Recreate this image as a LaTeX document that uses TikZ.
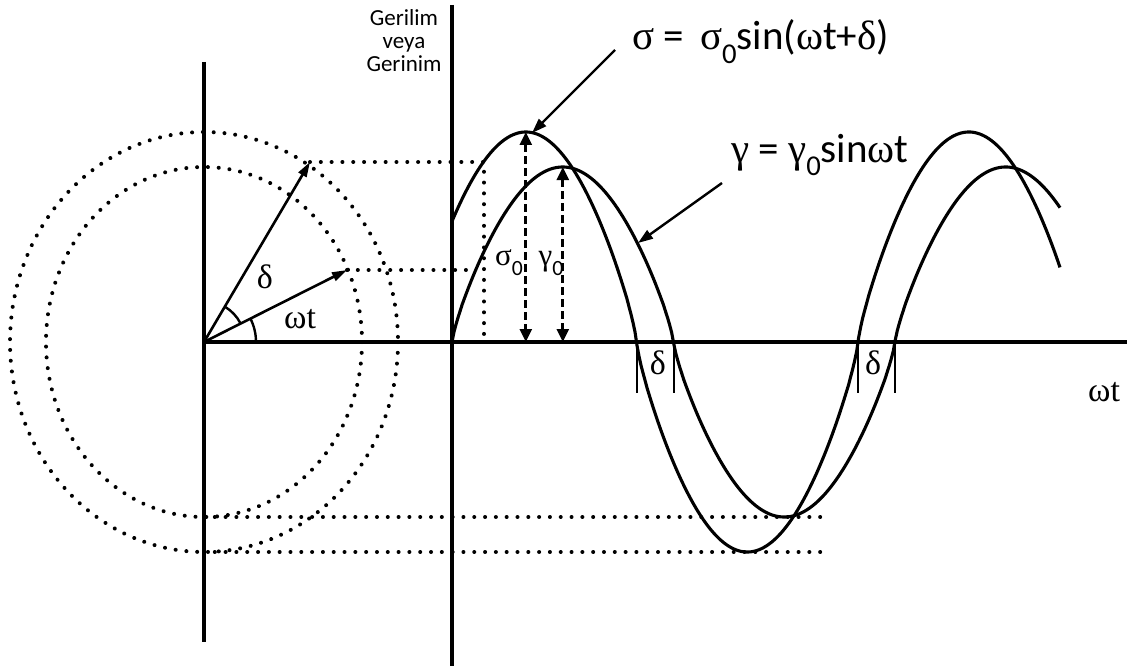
\documentclass[tikz,border=0pt]{standalone}
\usepackage{fontspec}
\setmainfont{Carlito}
\newfontfamily\gr{Liberation Serif}
\usetikzlibrary{arrows.meta}
\newcommand\lowsub[1]{\raisebox{-0.32em}{\fontsize{0.7em}{0.7em}\selectfont #1}}
\begin{document}
\begin{tikzpicture}[x=1pt,y=-1pt,
  declare function={wv(\t)=((sin(\t)<0)?-1:1)*pow(abs(sin(\t))+0.00001,0.8);},
  axis/.style={line width=3.1pt},
  curve/.style={line width=3.1pt},
  dots/.style={line width=4pt,dash pattern=on 0.01pt off 10.8pt,line cap=round},
  phasor/.style={line width=2.6pt,-{Triangle[length=15pt,width=9pt]}},
  dbl/.style={line width=2.8pt,dash pattern=on 8pt off 4pt,{Triangle[length=13pt,width=12pt]}-{Triangle[length=13pt,width=12pt]}},
  pointer/.style={line width=2.4pt,-{Triangle[length=15pt,width=10pt]}},
  tickline/.style={line width=2pt},
  anglearc/.style={line width=2.4pt},
  titletext/.style={font=\fontsize{23}{23}\selectfont,inner sep=0pt},
  eqtext/.style={font=\fontsize{41}{46}\selectfont,inner sep=0pt},
  greeklbl/.style={font=\gr\fontsize{34}{36}\selectfont,inner sep=0pt},
  amplbl/.style={font=\fontsize{31}{32}\selectfont,inner sep=0pt}
]
\useasboundingbox (0,0) rectangle (1135,666);
% coordinates
\coordinate (O) at (204,342);
\coordinate (LT) at (204,62);
\coordinate (LB) at (204,642);
\coordinate (VT) at (452,5);
\coordinate (VB) at (452,666);
\coordinate (HE) at (1127,342);
\coordinate (Ptip) at (310,162);
\coordinate (Gtip) at (347,270);
\coordinate (Pc) at (484,162);
\coordinate (Pb) at (484,342);
\coordinate (Gc) at (474,270);
\coordinate (B1a) at (204,517);
\coordinate (B1b) at (823,517);
\coordinate (B2a) at (204,552);
\coordinate (B2b) at (823,552);
% dotted circles and guide lines
\draw[dots] (O) ellipse[x radius=194,y radius=210];
\draw[dots] (O) ellipse[x radius=158,y radius=175];
\draw[dots] (Ptip) -- (Pc) -- (Pb);
\draw[dots] (Gtip) -- (Gc);
\draw[dots] (B1a) -- (B1b);
\draw[dots] (B2a) -- (B2b);
% axes
\draw[axis] (LT) -- (LB);
\draw[axis] (VT) -- (VB);
\draw[axis] (O) -- (HE);
% phasors
\draw[phasor] (O) -- (Ptip);
\draw[phasor] (O) -- (Gtip);
\draw[anglearc] (O) ++(-59.5:41) arc[start angle=-59.5,end angle=-26.7,radius=41];
\draw[anglearc] (O) ++(-26.7:52) arc[start angle=-26.7,end angle=0,radius=52];
\node[greeklbl] (dl) at (265,277) {δ};
\node[greeklbl,anchor=base west] (wl) at (284,328) {ωt};
% curves
\draw[curve] plot[domain=452:1060,samples=300] (\x,{342-175*wv((\x-452)/443*360)});
\draw[curve] plot[domain=452:1060,samples=300] (\x,{342-210*wv((\x-452)/443*360+30)});
% amplitude arrows
\coordinate (sA) at (525.8,132);
\coordinate (sB) at (525.8,342);
\coordinate (gA) at (562.8,167);
\coordinate (gB) at (562.8,342);
\draw[dbl] (sA) -- (sB);
\draw[dbl] (gA) -- (gB);
\node[amplbl] (s0) at (509,263) {{\gr σ}\lowsub{0}};
\node[amplbl] (g0) at (551,263) {{\gr γ}\lowsub{0}};
% phase ticks
\coordinate (k1) at (636.6,342); \coordinate (k1b) at (636.6,393);
\coordinate (k2) at (673.5,342); \coordinate (k2b) at (673.5,393);
\coordinate (k3) at (858,342); \coordinate (k3b) at (858,393);
\coordinate (k4) at (895,342); \coordinate (k4b) at (895,393);
\draw[tickline] (k1) -- (k1b);
\draw[tickline] (k2) -- (k2b);
\draw[tickline] (k3) -- (k3b);
\draw[tickline] (k4) -- (k4b);
\node[greeklbl] (d1) at (658,363) {δ};
\node[greeklbl] (d2) at (873,363) {δ};
\node[greeklbl,anchor=base west] (wax) at (1088,401) {ωt};
% title
\node[titletext,anchor=base] (t1) at (404,26) {Gerilim};
\node[titletext,anchor=base] (t2) at (404,49) {veya};
\node[titletext,anchor=base] (t3) at (404,72) {Gerinim};
% equations
\node[eqtext,anchor=base west] (eqs) at (632,50) {{\gr σ} = \,{\gr σ}\lowsub{0}sin({\gr ω}t+{\gr δ})};
\node[eqtext,anchor=base west] (eqg) at (731,162) {{\gr γ} = {\gr γ}\lowsub{0}sin{\gr ω}t};
\coordinate (ps) at (615,50);
\coordinate (pt) at (532,133);
\coordinate (qs) at (722,183);
\coordinate (qt) at (638,243);
\draw[pointer] (ps) -- (pt);
\draw[pointer] (qs) -- (qt);
\end{tikzpicture}
\end{document}
